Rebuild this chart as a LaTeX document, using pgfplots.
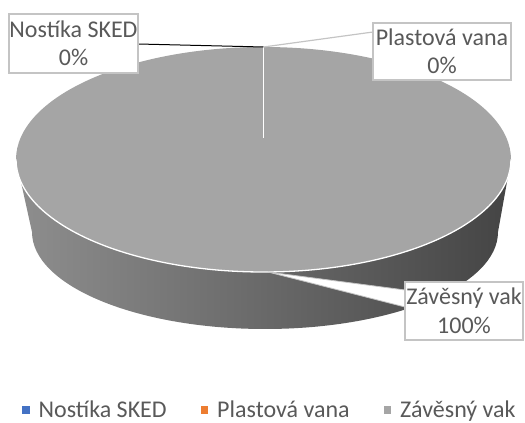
\documentclass[border=0pt]{standalone}
\usepackage{pgfplots}
\pgfplotsset{compat=1.18}
\usepackage{pgfplotstable}
\usepackage{fontspec}
\setmainfont{Carlito}
\definecolor{topgray}{HTML}{A5A5A5}
\definecolor{txt}{HTML}{595959}
\definecolor{boxc}{HTML}{C4C4C4}
\definecolor{sideL}{HTML}{8E8E8E}
\definecolor{sideM}{HTML}{505050}
\definecolor{sideR}{HTML}{444444}
\definecolor{cBlue}{HTML}{4472C4}
\definecolor{cOrange}{HTML}{ED7D31}
\pgfplotstableread[col sep=comma]{
name,value
Nostíka SKED,0
Plastová vana,0
Závěsný vak,100
}\piedata
\pgfplotstablegetelem{0}{value}\of\piedata\edef\valA{\pgfplotsretval}
\pgfplotstablegetelem{1}{value}\of\piedata\edef\valB{\pgfplotsretval}
\pgfplotstablegetelem{2}{value}\of\piedata\edef\valC{\pgfplotsretval}
\newcommand{\lblfont}{\fontsize{24}{28.5}\selectfont}
\begin{document}
\begin{tikzpicture}
\useasboundingbox (0,0) rectangle (525pt,423pt);
\begin{axis}[
  hide axis, scale only axis, width=525pt, height=423pt,
  xmin=0, xmax=525, ymin=0, ymax=423, clip=false,
  legend columns=3,
  legend image code/.code={\fill[draw=none,#1] (0pt,-3.8pt) rectangle (7.5pt,3.8pt);},
  legend style={draw=none, fill=none, at={(axis cs:22,13)}, anchor=west,
    font=\lblfont, text=txt, inner sep=0pt,
    /tikz/every odd column/.append style={column sep=7pt},
    /tikz/every even column/.append style={column sep=32pt}},
]
\addlegendimage{draw=none, fill=cBlue}
\addlegendentry{Nostíka SKED}
\addlegendimage{draw=none, fill=cOrange}
\addlegendentry{Plastová vana}
\addlegendimage{draw=none, fill=topgray}
\addlegendentry{Závěsný vak}
% side of the pie
\shade[left color=sideL, middle color=sideM, right color=sideR]
  (axis cs:16,263.5) -- (axis cs:32,191)
  arc[start angle=180, end angle=360, x radius=233, y radius=97]
  -- (axis cs:511,263.5)
  arc[start angle=0, end angle=-180, x radius=247.5, y radius=112.5] -- cycle;
% top face (Závěsný vak = 100 %)
\fill[topgray] (axis cs:263.5,263.5) ellipse [x radius=247.5, y radius=112.5];
\draw[white, line width=1.3pt] (axis cs:16,263.5)
  arc[start angle=180, end angle=360, x radius=247.5, y radius=112.5];
\draw[white, line width=1.4pt] (axis cs:263.5,376) -- (axis cs:263.5,285);
% leader lines
\draw[black, line width=1pt] (axis cs:138,379) -- (axis cs:263.5,376);
\draw[boxc, line width=1.2pt] (axis cs:373,391) -- (axis cs:263.5,376);
\filldraw[fill=white, draw=boxc, line width=0.8pt] (axis cs:268,151) -- (axis cs:405,133) -- (axis cs:405,116) -- cycle;
% label boxes
\filldraw[fill=white, draw=boxc, line width=1.3pt] (axis cs:9,350) rectangle (axis cs:138,409);
\filldraw[fill=white, draw=boxc, line width=1.3pt] (axis cs:373,343) rectangle (axis cs:511,400);
\filldraw[fill=white, draw=boxc, line width=1.3pt] (axis cs:405,83) rectangle (axis cs:523,141);
\node[font=\lblfont, text=txt, align=center] at (axis cs:73.5,379.5) {Nostíka SKED\\\valA\%};
\node[font=\lblfont, text=txt, align=center] at (axis cs:442,371.5) {Plastová vana\\\valB\%};
\node[font=\lblfont, text=txt, align=center] at (axis cs:464,112) {Závěsný vak\\\valC\%};
\end{axis}
\end{tikzpicture}
\end{document}
